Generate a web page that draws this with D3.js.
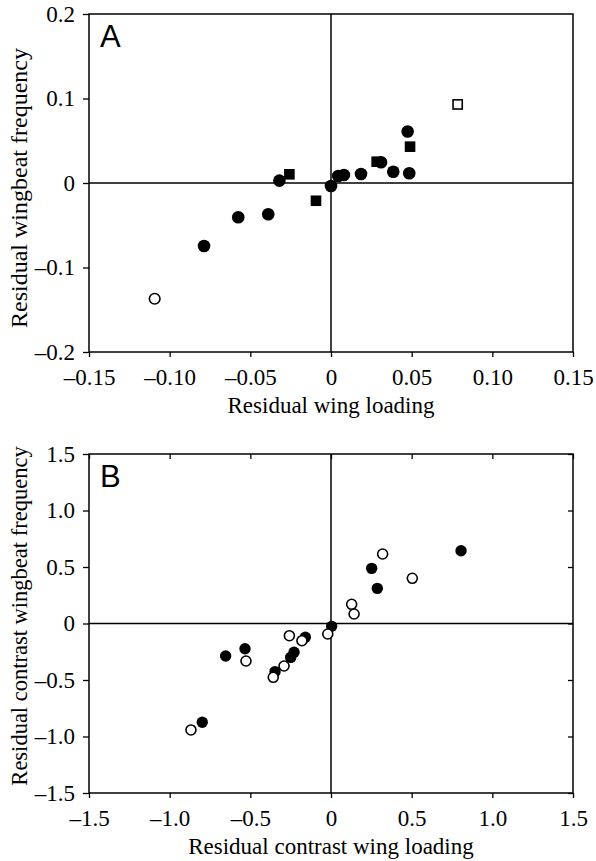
<!DOCTYPE html>
<html>
<head>
<meta charset="utf-8">
<script src="https://cdn.jsdelivr.net/npm/d3@7"></script>
<style>
  html, body { margin: 0; padding: 0; background: #fff; }
  svg { display: block; }
  .tick text { font-family: "Liberation Serif", "Times New Roman", serif; }
</style>
</head>
<body>
<svg id="chart" width="596" height="861"></svg>
<script>
// Panel A: residual wingbeat frequency vs residual wing loading
const aCircleX = [0.0475, 0.031, 0.0386, 0.0485, 0.0186, 0.008, 0.0045, 0.0, -0.032, -0.0389, -0.0575, -0.0787];
const aCircleY = [0.061, 0.0245, 0.0134, 0.0115, 0.0107, 0.0095, 0.0083, -0.0036, 0.0028, -0.037, -0.0406, -0.0746];
const aSquareX = [0.049, 0.0283, -0.0258, -0.0093];
const aSquareY = [0.043, 0.0252, 0.0103, -0.021];
const aOpenSquareX = [0.0785];
const aOpenSquareY = [0.093];
const aOpenCircleX = [-0.1093];
const aOpenCircleY = [-0.137];

// Panel B: residual contrasts
const bFilledX = [0.806, 0.252, 0.287, 0.004, -0.159, -0.533, -0.653, -0.229, -0.25, -0.347, -0.798];
const bFilledY = [0.644, 0.488, 0.311, -0.025, -0.122, -0.223, -0.288, -0.255, -0.3, -0.426, -0.874];
const bOpenX = [0.32, 0.504, 0.128, 0.143, -0.02, -0.258, -0.18, -0.527, -0.291, -0.358, -0.868];
const bOpenY = [0.615, 0.4, 0.17, 0.084, -0.093, -0.108, -0.152, -0.332, -0.376, -0.476, -0.942];

// Tick values and labels
const aXTicks = [-0.15, -0.10, -0.05, 0, 0.05, 0.10, 0.15];
const aXLabels = ["\u20130.15", "\u20130.10", "\u20130.05", "0", "0.05", "0.10", "0.15"];
const aYTicks = [-0.2, -0.1, 0, 0.1, 0.2];
const aYLabels = ["\u20130.2", "\u20130.1", "0", "0.1", "0.2"];
const bTicks = [-1.5, -1.0, -0.5, 0, 0.5, 1.0, 1.5];
const bLabels = ["\u20131.5", "\u20131.0", "\u20130.5", "0", "0.5", "1.0", "1.5"];

const svg = d3.select("#chart");
const serif = '"Liberation Serif", "Times New Roman", serif';
const sans = '"Liberation Sans", Arial, sans-serif';

function zip(xs, ys) { return xs.map((x, i) => ({ x, y: ys[i] })); }

function panel(opt) {
  const x = d3.scaleLinear().domain(opt.xDomain).range([89, 573]);
  const y = d3.scaleLinear().domain(opt.yDomain).range([opt.bottom, opt.top]);
  const g = svg.append("g");

  const fmt = (ticks, labels) => d => labels[ticks.indexOf(d)];

  const xAxis = g.append("g").attr("transform", `translate(0,${opt.bottom})`)
    .call(d3.axisBottom(x).tickValues(opt.xTicks).tickFormat(fmt(opt.xTicks, opt.xLabels)).tickSize(5).tickPadding(8));
  const yAxis = g.append("g").attr("transform", "translate(89,0)")
    .call(d3.axisLeft(y).tickValues(opt.yTicks).tickFormat(fmt(opt.yTicks, opt.yLabels)).tickSize(6).tickPadding(8));
  [xAxis, yAxis].forEach(a => {
    a.select(".domain").remove();
    a.selectAll(".tick line").attr("stroke", "#000").attr("stroke-width", 1.3);
    a.selectAll(".tick text").attr("fill", "#000").style("font-size", "23px").style("font-family", serif);
  });
  xAxis.selectAll(".tick text").attr("dy", "0.85em");

  if (opt.innerTicks) {
    const t = g.append("g").attr("transform", `translate(0,${opt.top})`)
      .call(d3.axisBottom(x).tickValues(opt.xTicks).tickFormat("").tickSize(5));
    const r = g.append("g").attr("transform", "translate(573,0)")
      .call(d3.axisLeft(y).tickValues(opt.yTicks).tickFormat("").tickSize(5));
    [t, r].forEach(a => {
      a.select(".domain").remove();
      a.selectAll(".tick line").attr("stroke", "#000").attr("stroke-width", 1.3);
    });
  }

  // Frame
  g.append("rect")
    .attr("x", x.range()[0]).attr("y", opt.top)
    .attr("width", x.range()[1] - x.range()[0]).attr("height", opt.bottom - opt.top)
    .attr("fill", "none").attr("stroke", "#000").attr("stroke-width", 1.5);

  // Zero reference lines
  g.append("line").attr("x1", x(0)).attr("x2", x(0)).attr("y1", opt.top).attr("y2", opt.bottom)
    .attr("stroke", "#000").attr("stroke-width", 1.5);
  g.append("line").attr("x1", x.range()[0]).attr("x2", x.range()[1]).attr("y1", y(0)).attr("y2", y(0))
    .attr("stroke", "#000").attr("stroke-width", 1.5);

  // Markers
  opt.series.forEach(s => {
    const pts = zip(s.xs, s.ys);
    if (s.shape === "circle") {
      g.append("g").selectAll("circle").data(pts).join("circle")
        .attr("cx", d => x(d.x)).attr("cy", d => y(d.y)).attr("r", s.size)
        .attr("fill", s.open ? "#fff" : "#000")
        .attr("stroke", "#000").attr("stroke-width", s.open ? 1.6 : 0);
    } else {
      g.append("g").selectAll("rect").data(pts).join("rect")
        .attr("x", d => x(d.x) - s.size).attr("y", d => y(d.y) - s.size)
        .attr("width", s.size * 2).attr("height", s.size * 2)
        .attr("fill", s.open ? "#fff" : "#000")
        .attr("stroke", "#000").attr("stroke-width", s.open ? 1.6 : 0);
    }
  });

  // Panel letter
  g.append("text").attr("x", 100).attr("y", opt.top + 33)
    .style("font-family", sans).style("font-size", "31px").text(opt.letter);

  // Axis titles
  g.append("text").attr("x", 331).attr("y", opt.bottom + 61)
    .attr("text-anchor", "middle").style("font-family", serif).style("font-size", "23px")
    .text(opt.xTitle);
  g.append("text")
    .attr("transform", `translate(27,${opt.yTitleCenter}) rotate(-90)`)
    .attr("text-anchor", "middle").style("font-family", serif).style("font-size", opt.yTitleSize)
    .text(opt.yTitle);
}

panel({
  letter: "A", top: 14, bottom: 352,
  xDomain: [-0.15, 0.15], yDomain: [-0.2, 0.2],
  xTicks: aXTicks, xLabels: aXLabels, yTicks: aYTicks, yLabels: aYLabels,
  innerTicks: false,
  xTitle: "Residual wing loading",
  yTitle: "Residual wingbeat frequency",
  yTitleCenter: 188, yTitleSize: "24px",
  series: [
    { xs: aCircleX, ys: aCircleY, shape: "circle", size: 6.3, open: false },
    { xs: aSquareX, ys: aSquareY, shape: "square", size: 5.3, open: false },
    { xs: aOpenSquareX, ys: aOpenSquareY, shape: "square", size: 4.6, open: true },
    { xs: aOpenCircleX, ys: aOpenCircleY, shape: "circle", size: 5.3, open: true }
  ]
});

panel({
  letter: "B", top: 454, bottom: 793,
  xDomain: [-1.5, 1.5], yDomain: [-1.5, 1.5],
  xTicks: bTicks, xLabels: bLabels, yTicks: bTicks, yLabels: bLabels,
  innerTicks: true,
  xTitle: "Residual contrast wing loading",
  yTitle: "Residual contrast wingbeat frequency",
  yTitleCenter: 616, yTitleSize: "22.5px",
  series: [
    { xs: bFilledX, ys: bFilledY, shape: "circle", size: 5.7, open: false },
    { xs: bOpenX, ys: bOpenY, shape: "circle", size: 5.0, open: true }
  ]
});
</script>
</body>
</html>
